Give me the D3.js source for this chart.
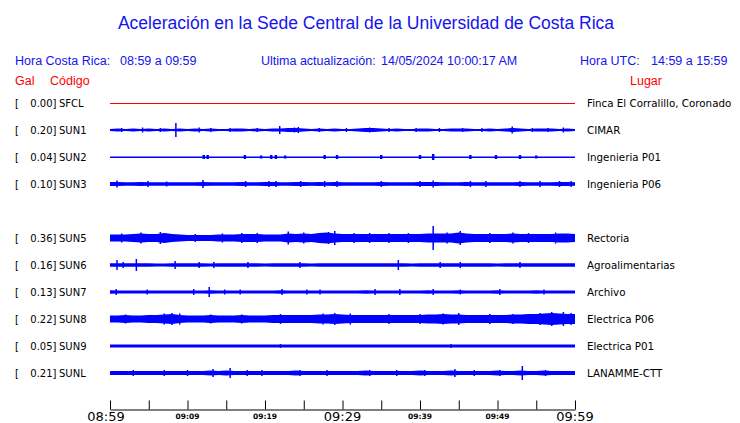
<!DOCTYPE html>
<html><head><meta charset="utf-8">
<script src="https://cdn.jsdelivr.net/npm/d3@7"></script>
<style>body{margin:0;background:#fff}svg{display:block}</style>
</head><body>
<svg id="c" width="740" height="423"></svg>
<script>
// ---------- data ----------
const slots = ["SFCL","SUN1","SUN2","SUN3","SUN4","SUN5","SUN6","SUN7","SUN8","SUN9","SUNL"];
const codes = ["SFCL","SUN1","SUN2","SUN3","SUN5","SUN6","SUN7","SUN8","SUN9","SUNL"];
const gal   = ["0.00","0.20","0.04","0.10","0.36","0.16","0.13","0.22","0.05","0.21"];
const places = ["Finca El Corralillo, Coronado","CIMAR","Ingenieria P01","Ingenieria P06","Rectoria","Agroalimentarias","Archivo","Electrica P06","Electrica P01","LANAMME-CTT"];
const tickMinutes = [0,5,10,15,20,25,30,35,40,45,50,55,60];
const labelMinutes = [0,10,20,30,40,50,60];
const tickLabels = ["08:59","09:09","09:19","09:29","09:39","09:49","09:59"];
const majorLabels = ["08:59","09:29","09:59"];

// envelope half-amplitude per minute (61 samples, 08:59..09:59)
const envSFCL = [0,0,0,0,0,0,0,0,0,0, 0,0,0,0,0,0,0,0,0,0, 0,0,0,0,0,0,0,0,0,0, 0,0,0,0,0,0,0,0,0,0, 0,0,0,0,0,0,0,0,0,0, 0,0,0,0,0,0,0,0,0,0, 0];
const envSUN1 = [1,1.5,1,1.5,1,1.5,1,1.5,1,1.5, 1,1.5,1,1.5,1,1,1.5,1.5,1,1.5, 1,1.5,1.5,2,2,1.5,1,1.5,1,1.5, 1,1,1.5,2,2,1.5,1,1.5,1,1, 1.5,1.5,1,1,1.5,1.5,1.5,1,1,1.5, 1,1.5,2,1.5,1,1.5,1.5,1.5,1,1.5, 1];
const envSUN2 = [0.5,0.5,0.5,0.5,0.5,0.5,0.5,0.5,0.5,0.5, 0.5,0.5,0.5,0.5,0.5,0.5,0.5,0.5,0.5,0.5, 0.5,0.5,0.5,0.5,0.5,0.5,0.5,0.5,0.5,0.5, 0.5,0.5,0.5,0.5,0.5,0.5,0.5,0.5,0.5,0.5, 0.5,0.5,0.5,0.5,0.5,0.5,0.5,0.5,0.5,0.5, 0.5,0.5,0.5,0.5,0.5,0.5,0.5,0.5,0.5,0.5, 0.5];
const envSUN3 = [2,2,1.8,1.8,2,1.8,1.8,1.8,1.8,1.8, 1.8,1.8,2,1.8,1.8,1.8,1.8,2,1.8,1.8, 2,2,1.8,1.8,2,2,1.8,2,1.8,2, 1.8,1.8,1.8,1.8,1.8,2,1.8,1.8,1.8,1.8, 2,2,2,1.8,1.8,1.8,2,1.8,1.8,1.8, 1.8,1.8,1.8,2,1.8,1.8,1.8,1.8,2,2, 1.8];
const envSUN5 = [3.5,3.5,3.5,4,4.5,4,4,5,4,3.5, 3,3,3,3,3.5,3.5,3.5,4,4,4, 3.5,3.5,3.5,4.5,4,4.5,4,5,5.5,4.5, 4,4,4,4,4,4,4,4,4,4, 4,4.5,4.5,4.5,4.5,5.5,4.5,4,4,4, 4,4,4.5,4,4,4,4,4,4.5,4.5, 4];
const envSUN6 = [1.8,1.8,1.8,1.8,1.8,1.8,1.5,1.5,1.8,1.8, 1.8,1.8,1.8,1.5,1.8,1.8,1.8,1.8,1.8,1.8, 1.5,1.8,1.8,1.8,1.8,1.8,1.5,1.8,1.8,1.8, 1.8,1.8,1.8,1.8,1.8,1.8,1.8,1.8,1.8,1.5, 1.8,1.8,1.8,1.8,1.8,1.8,1.8,1.8,1.8,1.8, 1.5,1.8,1.8,1.8,1.8,1.8,1.8,1.8,1.8,1.8, 1.8];
const envSUN7 = [1.8,1.5,1.5,1.5,1.5,1.5,1.5,1.5,1.5,1.5, 1.5,1.5,1.5,1.8,1.5,1.5,1.5,1.5,1.5,1.5, 1.5,1.5,1.8,1.5,1.5,1.5,1.5,1.5,1.5,1.5, 1.5,1.5,1.5,1.8,1.5,1.5,1.5,1.5,1.5,1.5, 1.5,1.8,1.5,1.5,1.5,1.8,1.5,1.5,1.5,1.5, 1.8,1.5,1.5,1.5,1.5,1.8,1.5,1.5,1.5,1.5, 1.5];
const envSUN8 = [3.5,3.5,4,3.5,3.5,4,4,4.5,5,4, 3.5,3.5,3.5,4,3.5,3.5,3.5,4,3.5,3.5, 3.5,4,4,4,4,4,4,4.5,4.5,5, 4.5,4,4,4,4,4,4,4,4,4, 4,4.5,4.5,5,4.5,4.5,4,4,4,4, 4,4,4.5,4.5,5,5,5.5,6,5.5,5, 5];
const envSUN9 = [1.4,1.4,1.4,1.4,1.4,1.4,1.4,1.4,1.4,1.4, 1.4,1.4,1.4,1.4,1.4,1.4,1.4,1.4,1.4,1.4, 1.4,1.4,1.6,1.4,1.4,1.4,1.4,1.4,1.4,1.4, 1.4,1.4,1.4,1.4,1.4,1.4,1.4,1.4,1.4,1.4, 1.4,1.4,1.4,1.4,1.6,1.4,1.4,1.4,1.4,1.4, 1.4,1.4,1.4,1.4,1.4,1.4,1.4,1.4,1.4,1.4, 1.4];
const envSUNL = [2,2,2,2,2,2,2,2,2,2, 2,2,2,2.5,2,2.5,2,2,2,2, 2,2,2,2,2.5,2,2,2,2,2, 2,2,2,2.5,2,2,2,2,2,2, 2.5,2,2,2,2.5,2,2,2,2,2, 2.5,2,2,2.5,2,2,2.5,2,2,2, 2];

// isolated spikes / short bursts [minute, half-amplitude]
const spkSFCL = [];
const spkSUN1 = [[8.5,7],[21.9,4],[51.9,3.5],[24.3,3],[23.8,2.5],[4.2,2.5],[11.5,2.5],[33.5,2.5],[58.5,2.5],[1.5,2],[6.5,2],[13,2],[15.5,2],[19,2],[27,2],[30.5,2],[36,2],[39.5,2],[42.5,2],[45.5,2],[48,2],[54.5,2],[56.5,2]];
const spkSUN2 = [[12.1,2],[12.6,2],[17.4,2],[19.5,1.5],[20.8,2],[21.4,2],[22.6,1.5],[27.7,2],[29.3,2],[35,2],[40,2],[41.7,3],[46.5,2],[49.8,2],[52.9,2],[55,1.5]];
const spkSUN3 = [[0.9,3.5],[4.9,3],[7.3,2.5],[12,4],[17.5,3],[20.5,3],[21.4,3],[24.6,3],[27.7,3],[29.3,3],[35,3],[40,3],[41.7,3.5],[46.5,3],[48.5,3],[52.9,3],[55.5,3],[58,3],[59.5,3]];
const spkSUN5 = [[41.7,12],[45.2,7],[29,7],[28.2,6],[6.5,6],[4,5.5],[23,6.5],[25,5.5],[57.5,5.5],[49,5],[52,5.5],[36,5],[31.5,5],[17,5],[19,5],[38.5,5],[43.5,5.5],[54,5],[1.5,4.5],[11,4],[14.5,4.5],[33.5,5]];
const spkSUN6 = [[0.9,5],[1.7,3],[3.4,6],[8.4,4],[11.5,3],[13.4,3],[17.8,3],[24.5,3],[37.2,5],[42.6,3],[45.2,3],[52.9,3]];
const spkSUN7 = [[0.8,3],[4.8,2.5],[10.8,3],[12.8,5],[14.8,2.5],[16.8,2.5],[22.2,3],[25.4,2.5],[27.1,2.5],[34.2,3],[37.4,3],[41.7,3],[45.2,2.5],[50.3,3],[56,2.5]];
const spkSUN8 = [[8,6],[7,5.5],[9,5.5],[29,6],[27.5,5.5],[31,5.5],[45,6],[43,5.5],[57,7],[58.5,7],[55.5,6],[59.5,6],[2,4.5],[13,4.5],[17,4.5],[22,5],[36,5],[40,5],[49,5],[52,5]];
const spkSUN9 = [[22,2],[44,2]];
const spkSUNL = [[13.3,4],[15.5,5],[17.7,3],[19.6,3],[24.5,3],[33.5,3],[40.6,3],[44.5,4],[50.3,3],[53.2,7],[56.2,3],[3,3],[7,3],[10,3],[28,3],[37,3],[47,3]];

const envs = [envSFCL,envSUN1,envSUN2,envSUN3,envSUN5,envSUN6,envSUN7,envSUN8,envSUN9,envSUNL];
const spikes = [spkSFCL,spkSUN1,spkSUN2,spkSUN3,spkSUN5,spkSUN6,spkSUN7,spkSUN8,spkSUN9,spkSUNL];

// ---------- drawing ----------
const svg = d3.select("#c");
const BLUE = "#0000ff", TXTBLUE = "#1414ee", RED = "#ff0000";
const x = d3.scaleLinear().domain([0,60]).range([110,575]);
const y = d3.scalePoint().domain(slots).range([103,373]);
const amp = d3.scaleLinear().domain([0,1]).range([0,1]);

svg.append("text").attr("x",366).attr("y",29).attr("text-anchor","middle")
  .attr("font-family","Liberation Sans, Arial, sans-serif").attr("font-size",17.5)
  .attr("fill",TXTBLUE).text("Aceleración en la Sede Central de la Universidad de Costa Rica");

const hdr = [
  {t:"Hora Costa Rica:",x:15,y:64.5,c:TXTBLUE},
  {t:"08:59 a 09:59",x:120,y:64.5,c:TXTBLUE},
  {t:"Ultima actualización:",x:261,y:64.5,c:TXTBLUE},
  {t:"14/05/2024 10:00:17 AM",x:381,y:64.5,c:TXTBLUE},
  {t:"Hora UTC:",x:580,y:64.5,c:TXTBLUE},
  {t:"14:59 a 15:59",x:651,y:64.5,c:TXTBLUE},
  {t:"Gal",x:15,y:84.5,c:RED},
  {t:"Código",x:50,y:84.5,c:RED},
  {t:"Lugar",x:630,y:84.5,c:RED}
];
svg.append("g").selectAll("text").data(hdr).join("text")
  .attr("x",d=>d.x).attr("y",d=>d.y).attr("fill",d=>d.c)
  .attr("font-family","Liberation Sans, Arial, sans-serif").attr("font-size",12.5)
  .text(d=>d.t);

const rows = svg.append("g").selectAll("g").data(codes).join("g")
  .attr("transform",d=>`translate(0,${y(d)})`);

const lbl = {"font-family":"DejaVu Sans, sans-serif","font-size":10,"fill":"#000"};
function style(sel,o){for(const k in o) sel.attr(k,o[k]); return sel;}
style(rows.append("text").attr("x",15).attr("y",4).text("["),lbl);
style(rows.append("text").attr("x",56.5).attr("y",4).attr("text-anchor","end").text((d,i)=>gal[i]+"]"),lbl);
style(rows.append("text").attr("x",59).attr("y",4).text(d=>d),lbl);
style(rows.append("text").attr("x",587).attr("y",4).text((d,i)=>places[i]),lbl).attr("font-size",10.3);

const area = d3.area().x((d,i)=>x(i)).y0(d=>amp(d)).y1(d=>-amp(d)).curve(d3.curveLinear);
rows.each(function(code,i){
  const g = d3.select(this);
  const col = code==="SFCL" ? RED : BLUE;
  if (code!=="SFCL") g.append("path").attr("d",area(envs[i])).attr("fill",col);
  g.append("line").attr("x1",x(0)).attr("x2",x(60)).attr("y1",0.5).attr("y2",0.5)
    .attr("stroke",col).attr("stroke-width",1);
  g.selectAll("line.s").data(spikes[i]).join("line").attr("class","s")
    .attr("x1",d=>x(d[0])).attr("x2",d=>x(d[0]))
    .attr("y1",d=>-amp(d[1])).attr("y2",d=>amp(d[1]))
    .attr("stroke",col).attr("stroke-width",code==="SUN2"?2.5:1.5);
});

// axis
const axis = d3.axisBottom(x).tickValues(tickMinutes).tickSize(-9).tickSizeOuter(0).tickFormat("");
const ax = svg.append("g").attr("transform","translate(0,409.5)").call(axis);
ax.select(".domain").attr("stroke","#000");
ax.selectAll(".tick line").attr("stroke","#000");

svg.append("g").selectAll("text").data(labelMinutes).join("text")
  .attr("x",(d,i)=>x(d) + (i===0?-4:0))
  .attr("y",(d,i)=>majorLabels.includes(tickLabels[i]) ? 421 : 419)
  .attr("text-anchor","middle")
  .attr("font-family","DejaVu Sans, sans-serif")
  .attr("font-size",(d,i)=>majorLabels.includes(tickLabels[i]) ? 13 : 7.5)
  .attr("font-weight",(d,i)=>majorLabels.includes(tickLabels[i]) ? "normal" : "bold")
  .attr("fill","#000")
  .text((d,i)=>tickLabels[i]);
</script>
</body></html>
